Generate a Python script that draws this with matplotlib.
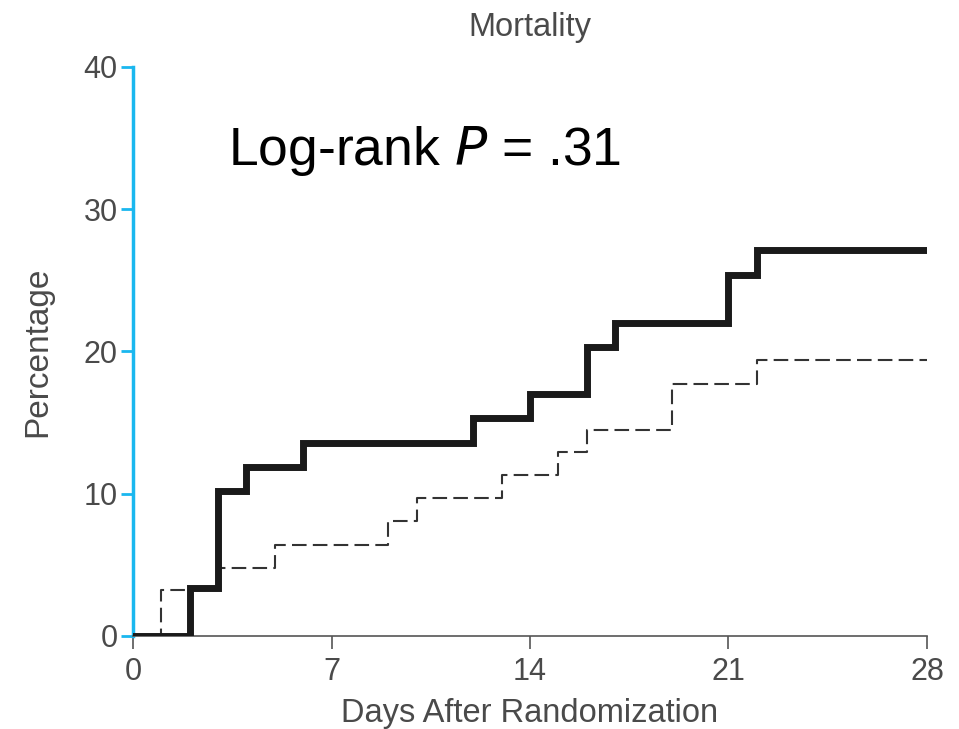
import matplotlib.pyplot as plt

plt.rcParams['font.family'] = ['Liberation Sans', 'DejaVu Sans']

# step data (days, cumulative mortality %)
days_solid = [0, 2, 3, 4, 6, 12, 14, 16, 17, 21, 22, 28]
pct_solid = [0, 3.4, 10.2, 11.9, 13.6, 15.3, 17.0, 20.3, 22.0, 25.4, 27.1, 27.1]

days_dashed = [0, 1, 3, 5, 9, 10, 13, 15, 16, 19, 22, 28]
pct_dashed = [0, 3.2, 4.8, 6.4, 8.1, 9.7, 11.3, 12.9, 14.5, 17.7, 19.4, 19.4]

xticks = [0, 7, 14, 21, 28]
yticks = [0, 10, 20, 30, 40]

grey = '#4a4a4a'
blue = '#1ab7ef'

fig = plt.figure(figsize=(9.59, 7.29), dpi=100)
ax = fig.add_axes([0.1387, 0.1276, 0.8279, 0.7805])

ax.step(days_dashed, pct_dashed, where='post', color='#333333', lw=1.5,
        dashes=(7, 3), zorder=2)
ax.step(days_solid, pct_solid, where='post', color='#1a1a1a', lw=5,
        solid_joinstyle='miter', zorder=3)

ax.set_xlim(0, 28)
ax.set_ylim(0, 40)
ax.set_xticks(xticks)
ax.set_yticks(yticks)

for s in ['top', 'right']:
    ax.spines[s].set_visible(False)
ax.spines['left'].set_color(blue)
ax.spines['left'].set_linewidth(2.5)
ax.spines['bottom'].set_color('#555555')
ax.spines['bottom'].set_linewidth(1.2)

ax.tick_params(axis='y', colors=blue, labelcolor=grey, length=9, width=2,
               labelsize=22, pad=2)
ax.tick_params(axis='x', colors='#555555', labelcolor=grey, length=9, width=1.2,
               labelsize=22, pad=6)

ax.set_xlabel('Days After Randomization', fontsize=23.5, color=grey, labelpad=8)
ax.set_ylabel('Percentage', fontsize=24, color=grey, labelpad=22)
ax.set_title('Mortality', fontsize=23.5, color=grey, pad=22)

ax.text(3.35, 33.1, 'Log-rank $\\it{P}$ = .31', fontsize=38.5, color='black',
        ha='left', va='baseline')

fig.savefig('out.png', dpi=100)
